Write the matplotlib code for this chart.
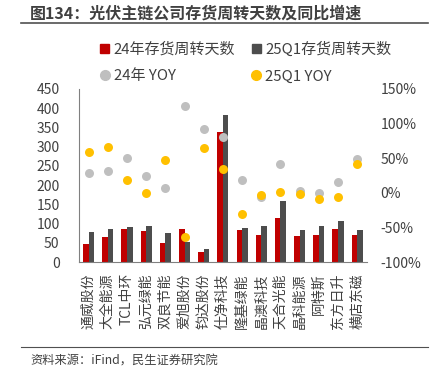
import matplotlib
matplotlib.use("Agg")
import matplotlib.pyplot as plt
import numpy as np
from matplotlib.lines import Line2D
from matplotlib.patches import Patch

plt.rcParams['font.family'] = ['Noto Sans CJK SC', 'DejaVu Sans']

categories = ["通威股份", "大全能源", "TCL中环", "弘元绿能", "双良节能", "爱旭股份", "钧达股份",
              "仕净科技", "隆基绿能", "晶澳科技", "天合光能", "晶科能源", "阿特斯", "东方日升", "横店东磁"]
days_24 = [46, 64, 86, 81, 49, 86, 26, 337, 84, 69, 115, 67, 71, 85, 71]
days_25q1 = [79, 86, 91, 93, 76, 52, 35, 382, 88, 93, 159, 82, 94, 107, 82]
yoy_24 = [28, 31, 50, 24, 7, 125, 92, 80, 18, -6, 42, 3, 0, 15, 49]
yoy_25q1 = [59, 66, 18, 0, 47, -64, 64, 35, -31, -2.5, 1.5, -1.5, -9, -6, 41]

left_ticks = [0, 50, 100, 150, 200, 250, 300, 350, 400, 450]
right_ticks = [-100, -50, 0, 50, 100, 150]

RED = "#C00000"
DARK = "#4D4D4D"
GRAY = "#BFBFBF"
YEL = "#FFC000"

fig = plt.figure(figsize=(4.44, 3.77), dpi=100)
ax = fig.add_axes([0.178, 0.305, 0.648, 0.459])
ax2 = ax.twinx()

x = np.arange(len(categories))
w = 0.29
ax.bar(x - w / 2, days_24, width=w, color=RED, zorder=2)
ax.bar(x + w / 2, days_25q1, width=w, color=DARK, zorder=2)
ax.set_ylim(0, 450)
ax.set_yticks(left_ticks)
ax.set_xlim(-0.5, len(categories) - 0.5)
ax.set_xticks(x)
ax.set_xticklabels(categories, rotation=90, fontsize=10.3, color="#404040")

ax2.scatter(x, yoy_24, s=42, color=GRAY, zorder=3, linewidths=0)
ax2.scatter(x, yoy_25q1, s=42, color=YEL, zorder=4, linewidths=0)
ax2.set_ylim(-100, 150)
ax2.set_yticks(right_ticks)
ax2.set_yticklabels([f"{t}%" for t in right_ticks])

for a in (ax, ax2):
    for s in ("top", "right"):
        a.spines[s].set_visible(False)
    a.tick_params(length=0, labelsize=10, colors="#404040")
ax2.spines["left"].set_visible(False)
ax2.spines["bottom"].set_visible(False)
ax.spines["left"].set_color("#808080")
ax.spines["bottom"].set_color("#808080")
ax.tick_params(axis="y", pad=14)
ax2.tick_params(axis="y", pad=10)
ax.tick_params(axis="x", pad=8)

handles = [
    Patch(color=RED, label="24年存货周转天数"),
    Line2D([], [], marker="o", ls="none", color=GRAY, markersize=7, label="24年 YOY"),
    Patch(color=DARK, label="25Q1存货周转天数"),
    Line2D([], [], marker="o", ls="none", color=YEL, markersize=7, label="25Q1 YOY"),
]
fig.legend(handles=handles, ncol=2, loc="upper left", bbox_to_anchor=(0.195, 0.926),
           frameon=False, fontsize=10.8, handlelength=0.6, handleheight=0.6, handletextpad=0.3,
           columnspacing=1.1, labelspacing=0.85, labelcolor="#404040")

fig.text(0.068, 0.965, "图134：光伏主链公司存货周转天数及同比增速", fontsize=11.5,
         fontweight="bold", color="#404040", va="center")
fig.add_artist(Line2D([0.047, 0.964], [0.938, 0.938], color="#505050", lw=1.2))
fig.add_artist(Line2D([0.047, 0.964], [0.080, 0.080], color="#505050", lw=0.8))
fig.text(0.068, 0.042, "资料来源：iFind，民生证券研究院", fontsize=8.8, color="#404040", va="center")

fig.savefig("out.png", dpi=100)
